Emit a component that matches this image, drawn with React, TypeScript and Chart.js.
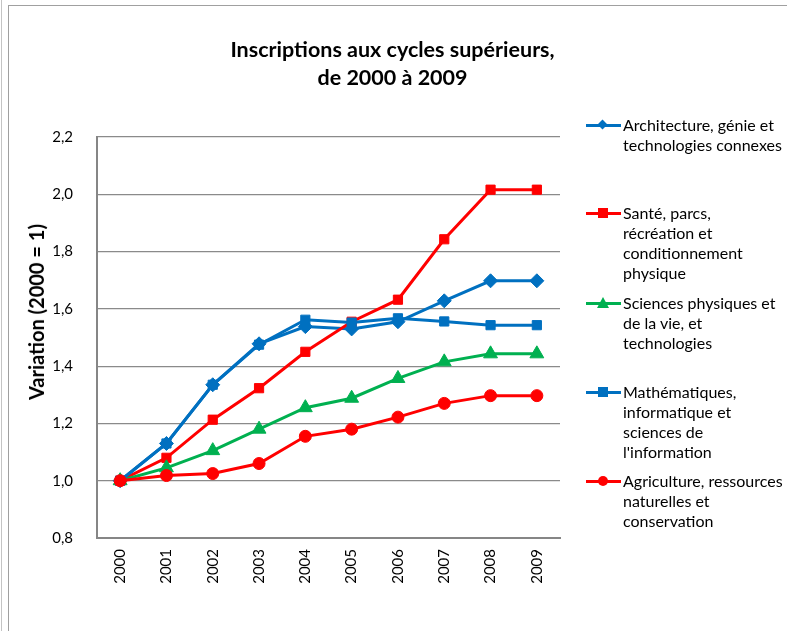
import React, { useEffect, useRef } from "react";
import { Chart, registerables } from "chart.js";

Chart.register(...registerables);

const years = ["2000", "2001", "2002", "2003", "2004", "2005", "2006", "2007", "2008", "2009"];

const architecture = [1.0, 1.13, 1.335, 1.478, 1.538, 1.53, 1.555, 1.628, 1.698, 1.698];
const sante = [1.0, 1.08, 1.213, 1.323, 1.45, 1.555, 1.632, 1.843, 2.016, 2.016];
const sciences = [1.0, 1.045, 1.105, 1.18, 1.255, 1.288, 1.357, 1.415, 1.443, 1.443];
const mathematiques = [1.0, 1.13, 1.335, 1.475, 1.562, 1.552, 1.567, 1.556, 1.543, 1.543];
const agriculture = [1.0, 1.018, 1.025, 1.06, 1.155, 1.18, 1.222, 1.27, 1.297, 1.297];

const seriesNames = [
  ["Architecture, génie et", "technologies connexes"],
  ["Santé, parcs,", "récréation et", "conditionnement", "physique"],
  ["Sciences physiques et", "de la vie, et", "technologies"],
  ["Mathématiques,", "informatique et", "sciences de", "l'information"],
  ["Agriculture, ressources", "naturelles et", "conservation"],
];

const BLUE = "#0070C0";
const RED = "#FF0000";
const GREEN = "#00B050";
const FONT = "Lato, 'Open Sans', sans-serif";

const legendMarkers = [
  { color: BLUE, shape: "diamond" },
  { color: RED, shape: "square" },
  { color: GREEN, shape: "triangle" },
  { color: BLUE, shape: "square" },
  { color: RED, shape: "circle" },
];
const legendTops = [115, 203, 293, 382, 471];

function Marker({ color, shape }: { color: string; shape: string }) {
  let m: React.ReactNode = null;
  const base: React.CSSProperties = { position: "absolute" };
  if (shape === "diamond") {
    m = <div style={{ ...base, left: 13, top: 6, width: 7, height: 7, background: color, transform: "rotate(45deg)" }} />;
  } else if (shape === "square") {
    m = <div style={{ ...base, left: 12, top: 5, width: 10, height: 10, background: color }} />;
  } else if (shape === "triangle") {
    m = (
      <div
        style={{
          ...base,
          left: 11,
          top: 4,
          width: 0,
          height: 0,
          borderLeft: "6px solid transparent",
          borderRight: "6px solid transparent",
          borderBottom: `11px solid ${color}`,
        }}
      />
    );
  } else {
    m = <div style={{ ...base, left: 12, top: 5, width: 10, height: 10, borderRadius: 5, background: color }} />;
  }
  return (
    <div style={{ position: "absolute", left: 0, top: 0, width: 35, height: 20 }}>
      <div style={{ position: "absolute", left: 0, top: 8.5, width: 35, height: 3, background: color }} />
      {m}
    </div>
  );
}

export default function App() {
  const canvasRef = useRef<HTMLCanvasElement | null>(null);

  useEffect(() => {
    if (!canvasRef.current) return;
    const mk = (label: string, data: number[], color: string, style: any, radius: number, order: number) => ({
      label,
      data,
      borderColor: color,
      backgroundColor: color,
      borderWidth: 3,
      pointStyle: style,
      pointRadius: radius,
      pointHoverRadius: radius,
      pointBorderWidth: 1,
      pointBorderColor: color,
      pointBackgroundColor: color,
      tension: 0,
      order,
    });
    const chart = new Chart(canvasRef.current, {
      type: "line",
      data: {
        labels: years,
        datasets: [
          mk(seriesNames[0].join(" "), architecture, BLUE, "rectRot", 7, 4),
          mk(seriesNames[1].join(" "), sante, RED, "rect", 6.5, 3),
          mk(seriesNames[2].join(" "), sciences, GREEN, "triangle", 8, 2),
          mk(seriesNames[3].join(" "), mathematiques, BLUE, "rect", 6.5, 1),
          mk(seriesNames[4].join(" "), agriculture, RED, "circle", 6, 0),
        ],
      },
      options: {
        animation: false,
        responsive: false,
        maintainAspectRatio: false,
        layout: { padding: { left: 0, top: 137, right: 227, bottom: 0 } },
        plugins: {
          legend: { display: false },
          title: { display: false },
          tooltip: { enabled: false },
        },
        scales: {
          x: {
            type: "category",
            offset: true,
            grid: { display: false, drawTicks: false },
            border: { display: true, color: "#868686", width: 2 },
            ticks: {
              minRotation: 90,
              maxRotation: 90,
              padding: 11,
              color: "#000",
              font: { family: FONT, size: 15 },
            },
            afterFit: (s: any) => {
              s.height = 93;
            },
          },
          y: {
            min: 0.8,
            max: 2.2,
            grid: { color: "#8a8a8a", lineWidth: 1.2, drawTicks: false },
            border: { display: true, color: "#868686", width: 2 },
            ticks: {
              stepSize: 0.2,
              padding: 24,
              color: "#000",
              font: { family: FONT, size: 15 },
              callback: (v: any) => Number(v).toFixed(1).replace(".", ","),
            },
            afterFit: (s: any) => {
              s.width = 97;
            },
          },
        },
      },
    });
    return () => chart.destroy();
  }, []);

  return (
    <div style={{ position: "absolute", left: 0, top: 0, width: 787, height: 631, overflow: "hidden", background: "#fff", fontFamily: FONT }}>
      <div style={{ position: "absolute", left: 1, top: 0, width: 1, height: 631, background: "#c4c4c4" }} />
      <div style={{ position: "absolute", left: 8, top: 5, width: 800, height: 700, border: "1px solid #a0a0a0", boxSizing: "border-box" }} />
      <canvas ref={canvasRef} width={787} height={631} style={{ position: "absolute", left: 0, top: 0 }} />
      <div
        style={{
          position: "absolute",
          left: 0,
          top: 35,
          width: 785,
          textAlign: "center",
          fontWeight: 700,
          fontSize: 21.5,
          lineHeight: "28px",
          color: "#000",
        }}
      >
        <div>Inscriptions aux cycles supérieurs,</div>
        <div>de 2000 à 2009</div>
      </div>
      <div
        style={{
          position: "absolute",
          left: 36,
          top: 312,
          transform: "translate(-50%, -50%) rotate(-90deg)",
          whiteSpace: "nowrap",
          fontWeight: 700,
          fontSize: 20,
          color: "#000",
        }}
      >
        Variation (2000 = 1)
      </div>
      {seriesNames.map((lines, i) => (
        <div key={i} style={{ position: "absolute", left: 586, top: legendTops[i], width: 200 }}>
          <Marker color={legendMarkers[i].color} shape={legendMarkers[i].shape} />
          <div style={{ position: "absolute", left: 37, top: 0, fontSize: 16, lineHeight: "20px", color: "#000", whiteSpace: "nowrap" }}>
            {lines.map((l, j) => (
              <div key={j}>{l}</div>
            ))}
          </div>
        </div>
      ))}
    </div>
  );
}
